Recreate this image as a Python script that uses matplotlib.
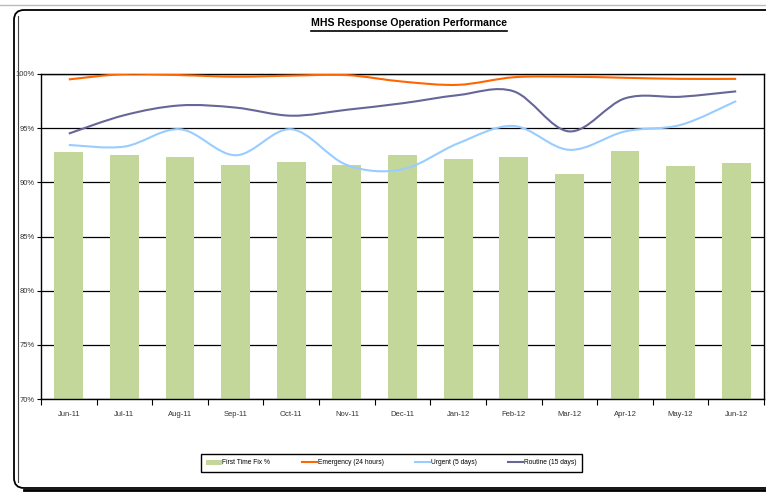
import matplotlib
matplotlib.use('Agg')
import matplotlib.pyplot as plt
from matplotlib.path import Path
from matplotlib.patches import PathPatch, Patch, FancyBboxPatch
from matplotlib.lines import Line2D
from matplotlib.ticker import FuncFormatter

plt.rcParams['font.family'] = ['Liberation Sans', 'DejaVu Sans']

# data (percent)
months = ['Jun-11', 'Jul-11', 'Aug-11', 'Sep-11', 'Oct-11', 'Nov-11', 'Dec-11',
          'Jan-12', 'Feb-12', 'Mar-12', 'Apr-12', 'May-12', 'Jun-12']
first_fix = [92.8, 92.5, 92.3, 91.6, 91.9, 91.6, 92.5, 92.15, 92.3, 90.8, 92.9, 91.5, 91.8]
emergency = [99.5, 100.0, 99.9, 99.75, 99.85, 99.9, 99.3, 99.0, 99.7, 99.75, 99.65, 99.55, 99.55]
urgent = [93.45, 93.3, 94.9, 92.5, 94.9, 91.6, 91.2, 93.6, 95.2, 93.0, 94.7, 95.3, 97.5]
routine = [94.5, 96.2, 97.1, 96.9, 96.15, 96.7, 97.3, 98.05, 98.4, 94.7, 97.75, 97.9, 98.4]

bar_color = '#C4D79B'
emerg_color = '#FF6600'
urgent_color = '#99CCFF'
routine_color = '#666699'


def smooth_path(xs, ys):
    # excel style smoothed line: bezier segments with catmull-rom control points
    n = len(xs)
    verts = [(xs[0], ys[0])]
    codes = [Path.MOVETO]
    for i in range(n - 1):
        a = i - 1 if i > 0 else i
        b = i + 2 if i + 2 < n else i + 1
        c1 = (xs[i] + (xs[i + 1] - xs[a]) / 6.0, ys[i] + (ys[i + 1] - ys[a]) / 6.0)
        c2 = (xs[i + 1] - (xs[b] - xs[i]) / 6.0, ys[i + 1] - (ys[b] - ys[i]) / 6.0)
        verts += [c1, c2, (xs[i + 1], ys[i + 1])]
        codes += [Path.CURVE4] * 3
    return Path(verts, codes)


fig = plt.figure(figsize=(7.66, 4.95), dpi=100)
ax = fig.add_axes([41 / 766, 1 - 399 / 495, 723 / 766, 325 / 495])

x = list(range(len(months)))
ax.bar(x, first_fix, width=0.52, color=bar_color, zorder=2)

for vals, col in [(emergency, emerg_color), (urgent, urgent_color), (routine, routine_color)]:
    ax.add_patch(PathPatch(smooth_path(x, vals), fill=False, edgecolor=col, lw=1.5, zorder=3))

ax.set_xlim(-0.5, len(months) - 0.5)
ax.set_ylim(70, 100)
ax.set_yticks([70, 75, 80, 85, 90, 95, 100])
ax.yaxis.set_major_formatter(FuncFormatter(lambda v, p: '%d%%' % v))
ax.yaxis.grid(True, color='black', lw=0.9)
ax.set_axisbelow(True)
ax.tick_params(axis='y', direction='out', length=3, width=0.8, labelsize=5.5, pad=1.5,
               labelcolor='#333333')

ax.set_xticks(x)
ax.set_xticklabels(months)
ax.set_xticks([i - 0.5 for i in range(len(months) + 1)], minor=True)
ax.tick_params(axis='x', which='major', length=0, labelsize=5.5, pad=9, labelcolor='#333333')
ax.tick_params(axis='x', which='minor', direction='out', length=4, width=0.8)
for s in ax.spines.values():
    s.set_color('black')
    s.set_linewidth(1.0)

# title with underline
title = fig.text(409 / 766, 1 - 23 / 495, 'MHS Response Operation Performance',
                 ha='center', va='center', fontsize=7.6, fontweight='bold')
fig.canvas.draw()
tb = title.get_window_extent(renderer=fig.canvas.get_renderer())
fig.add_artist(Line2D([tb.x0, tb.x1], [495 - 31, 495 - 31], transform=None,
                      color='black', lw=1.2))

# legend
handles = [Patch(facecolor=bar_color, edgecolor='none'),
           Line2D([], [], color=emerg_color, lw=1.5),
           Line2D([], [], color=urgent_color, lw=1.5),
           Line2D([], [], color=routine_color, lw=1.5)]
labels = ['First Time Fix %', 'Emergency (24 hours)', 'Urgent (5 days)', 'Routine (15 days)']
leg = fig.legend(handles, labels, loc='center', bbox_to_anchor=(391.5 / 766, 1 - 463 / 495),
                 ncol=4, fontsize=4.8, frameon=True, fancybox=False, edgecolor='black',
                 framealpha=1, handlelength=2.3, handletextpad=0.1, columnspacing=4.7,
                 borderpad=0.8, borderaxespad=0)
leg.get_frame().set_linewidth(1.0)

# chart area frame
fig.add_artist(Line2D([0, 1], [1 - 5 / 495, 1 - 5 / 495], transform=fig.transFigure,
                      color='#BBBBBB', lw=1.0))
frame = FancyBboxPatch((14, 495 - 488), 800, 478, boxstyle='round,pad=0,rounding_size=10',
                       transform=None, fill=False, edgecolor='black', lw=1.3)
fig.add_artist(frame)
fig.add_artist(Line2D([18 / 766, 18 / 766], [1 - 16 / 495, 1 - 482 / 495],
                      transform=fig.transFigure, color='#444444', lw=0.8))
fig.add_artist(Line2D([24 / 766, 1], [1 - 490 / 495, 1 - 490 / 495],
                      transform=fig.transFigure, color='black', lw=2.0))

fig.savefig('out.png', dpi=100)
